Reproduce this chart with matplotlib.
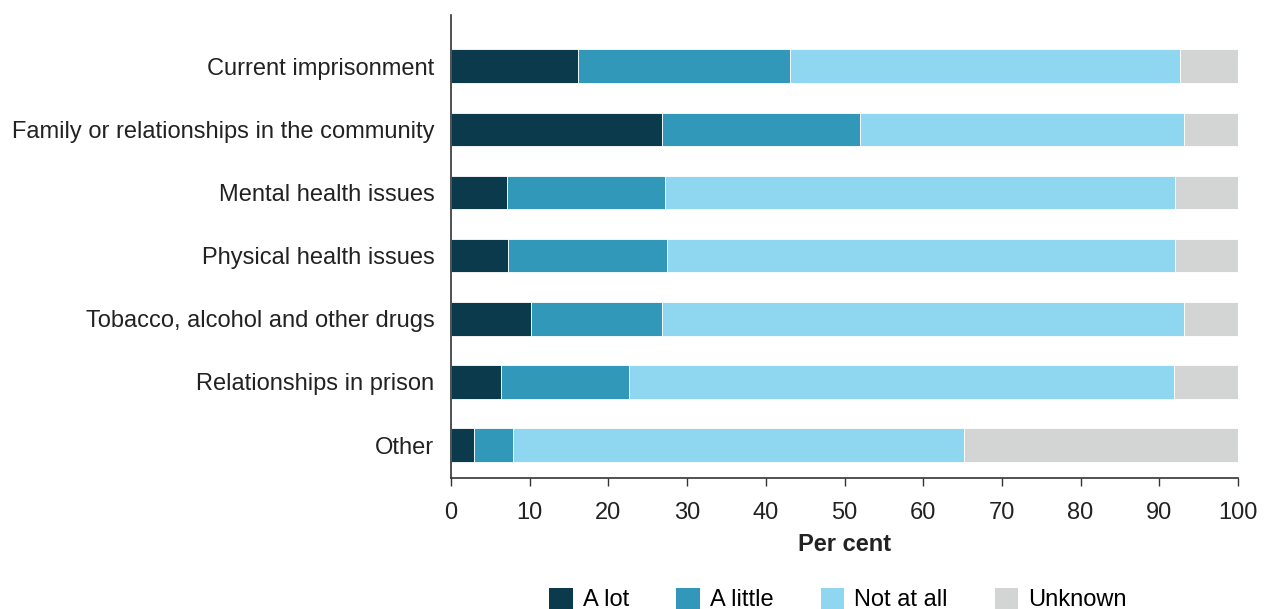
import matplotlib
matplotlib.use("Agg")
import matplotlib.pyplot as plt
from matplotlib.patches import Patch

plt.rcParams['font.family'] = ['Liberation Sans', 'DejaVu Sans']

categories = ["Current imprisonment", "Family or relationships in the community",
              "Mental health issues", "Physical health issues",
              "Tobacco, alcohol and other drugs", "Relationships in prison", "Other"]
a_lot = [16.1, 26.8, 7.1, 7.3, 10.2, 6.3, 2.9]
a_little = [27.0, 25.2, 20.1, 20.2, 16.6, 16.3, 5.0]
not_at_all = [49.5, 41.2, 64.8, 64.5, 66.4, 69.3, 57.3]
unknown = [round(100 - a - b - c, 1) for a, b, c in zip(a_lot, a_little, not_at_all)]

series = [("A lot", a_lot, "#0b3a4c"), ("A little", a_little, "#3198ba"),
          ("Not at all", not_at_all, "#8fd7f0"), ("Unknown", unknown, "#d3d4d4")]

fig = plt.figure(figsize=(12.64, 6.09), dpi=100)
ax = fig.add_axes([451/1264, 1 - 478/609, (1238-451)/1264, (478-15)/609])

ypos = [len(categories) - 1 - i for i in range(len(categories))]
left = [0]*len(categories)
for name, vals, col in series:
    ax.barh(ypos, vals, left=left, height=0.53, color=col, edgecolor="white", linewidth=0.6, label=name)
    left = [l + v for l, v in zip(left, vals)]

ax.set_xlim(0, 100)
ax.set_ylim(-0.52, 6.81)
ax.set_yticks(ypos)
ax.set_yticklabels(categories, fontsize=17, color="#222222")
ax.tick_params(axis='y', length=0, pad=12)
ax.set_xticks(range(0, 101, 10))
ax.tick_params(axis='x', labelsize=17, length=6, width=1, colors="#333333", labelcolor="#222222", pad=11)
for s in ["top", "right"]:
    ax.spines[s].set_visible(False)
for s in ["left", "bottom"]:
    ax.spines[s].set_color("#333333")
    ax.spines[s].set_linewidth(1.2)
ax.set_xlabel("Per cent", fontsize=17, fontweight="bold", color="#222222", labelpad=7)

handles = [Patch(facecolor=c, label=n) for n, _, c in series]
fig.legend(handles=handles, loc="upper center", bbox_to_anchor=(838/1264, 1 - 576/609),
           ncol=4, frameon=False, fontsize=17, handlelength=1.0, handleheight=1.0,
           columnspacing=2.0, handletextpad=0.42, borderpad=0)

fig.savefig("out.png", dpi=100)
